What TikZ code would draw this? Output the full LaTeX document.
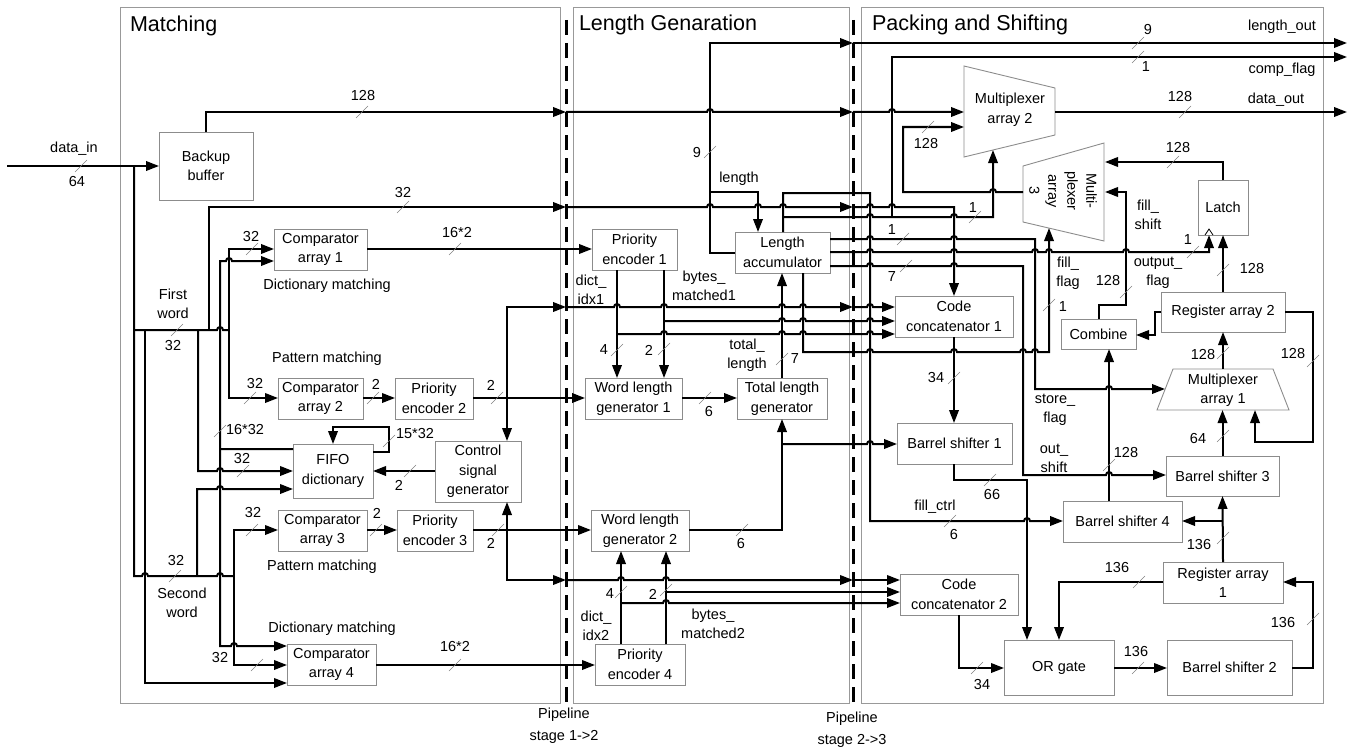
\documentclass[tikz,border=0pt]{standalone}
\usepackage{fontspec}
\setmainfont{Liberation Sans}
\usetikzlibrary{arrows.meta}
\tikzset{
  bx/.style={draw=black!45, line width=0.9pt, inner sep=1pt, outer sep=0pt, align=center, font=\fontsize{14.5}{19.5}\selectfont},
  panel/.style={draw=black!40, line width=0.9pt},
  ar/.style={-{Triangle[length=13pt,width=9.5pt]}},
  hp/.style={insert path={arc[start angle=180,end angle=0,radius=3pt]}},
  hpl/.style={insert path={arc[start angle=0,end angle=180,radius=3pt]}},
  tickst/.style={draw=black!50, line width=0.6pt},
  lb/.style={font=\fontsize{14.5}{19}\selectfont, inner sep=0pt, align=center},
  ttl/.style={font=\fontsize{21.5}{26}\selectfont, anchor=base west, inner sep=0pt},
  pipe/.style={line width=3pt, dash pattern=on 15pt off 8pt},
  trap/.style={draw=black!45, line width=0.9pt},
}
\newcommand\tk[2]{\draw[tickst] ({#1-6},{#2+6}) -- ({#1+6},{#2-6});}
\newcommand\mkbox[6]{%
  \pgfmathsetmacro\bxw{#4-#2}\pgfmathsetmacro\bxh{#5-#3}%
  \pgfmathsetmacro\bxx{(#2+#4)/2}\pgfmathsetmacro\bxy{(#3+#5)/2}%
  \node[bx,minimum width=\bxw pt,minimum height=\bxh pt] (#1) at (\bxx,\bxy) {#6};}
\newcommand\lab[4]{\node[lb] (#1) at (#2,#3) {#4};}
\begin{document}
\begin{tikzpicture}[x=1pt,y=-1pt,line width=2pt]
\useasboundingbox (0,0) rectangle (1356,749);
% panels
\draw[panel] (120,7) rectangle (560,703);
\draw[panel] (573,7) rectangle (849,703);
\draw[panel] (861,7) rectangle (1323,703);
\node[ttl] (t1) at (129,32) {Matching};
\node[ttl] (t2) at (578,31) {Length Genaration};
\node[ttl] (t3) at (871,31) {Packing and Shifting};
\draw[pipe] (566,20) -- (566,705);
\draw[pipe] (853,20) -- (853,705);
\node[lb,font=\fontsize{14.5}{22}\selectfont] (p1) at (564,726) {Pipeline\\stage 1->2};
\node[lb,font=\fontsize{14.5}{22}\selectfont] (p2) at (852,730) {Pipeline\\stage 2->3};

% boxes
\mkbox{bb}{159}{132}{253}{200}{Backup\\buffer}
\mkbox{c1}{274}{229}{367}{270}{Comparator\\array 1}
\mkbox{c2}{278}{378}{363}{419}{Comparator\\array 2}
\mkbox{pe2}{395}{378}{473}{419}{Priority\\encoder 2}
\mkbox{fifo}{293}{444}{373}{498}{FIFO\\dictionary}
\mkbox{csg}{435}{441}{521}{502}{Control\\signal\\generator}
\mkbox{c3}{278}{510}{367}{551}{Comparator\\array 3}
\mkbox{pe3}{397}{510}{473}{551}{Priority\\encoder 3}
\mkbox{c4}{287}{644}{376}{685}{Comparator\\array 4}
\mkbox{pe1}{592}{229}{677}{270}{Priority\\encoder 1}
\mkbox{acc}{735}{232}{830}{273}{Length\\accumulator}
\mkbox{wl1}{585}{378}{682}{419}{Word length\\generator 1}
\mkbox{tlg}{737}{378}{827}{419}{Total length\\generator}
\mkbox{wl2}{591}{510}{689}{551}{Word length\\generator 2}
\mkbox{pe4}{595}{644}{685}{685}{Priority\\encoder 4}
\mkbox{latch}{1198}{180}{1248}{235}{Latch}
\mkbox{cc1}{895}{296}{1013}{337}{Code\\concatenator 1}
\mkbox{comb}{1061}{319}{1136}{349}{Combine}
\mkbox{ra2}{1161}{292}{1285}{332}{Register array 2}
\mkbox{bs1}{897}{423}{1012}{464}{Barrel shifter 1}
\mkbox{bs3}{1166}{456}{1279}{496}{Barrel shifter 3}
\mkbox{bs4}{1063}{501}{1182}{542}{Barrel shifter 4}
\mkbox{ra1}{1163}{562}{1283}{603}{Register array\\1}
\mkbox{cc2}{900}{574}{1018}{615}{Code\\concatenator 2}
\mkbox{orr}{1004}{640}{1114}{695}{OR gate}
\mkbox{bs2}{1167}{640}{1292}{695}{Barrel shifter 2}
% multiplexers
\draw[trap] (964,66) -- (1055,88) -- (1055,135) -- (964,157) -- cycle;
\node[lb,font=\fontsize{14.5}{19.5}\selectfont] (mux2) at (1010,110) {Multiplexer\\array 2};
\draw[trap] (1023,166) -- (1104,143) -- (1104,241) -- (1023,222) -- cycle;
\node[lb,font=\fontsize{14.5}{19}\selectfont,rotate=-90] (mux3) at (1063,191) {Multi-\\plexer\\array\\3};
\draw[trap] (1173,369) -- (1273,369) -- (1289,410) -- (1157,410) -- cycle;
\node[lb,font=\fontsize{14.5}{19.5}\selectfont] (mux1) at (1223,390) {Multiplexer\\array 1};
\draw[line width=0.8pt] (1205,235) -- (1209,229) -- (1213,235);

% ---------- Matching connectors
\coordinate (din) at (7,166);
\draw[ar] (din) -- (bb.west);
\draw (134,166) -- (134,576) -- (142,576) [hp] -- (217,576) [hp] -- (234,576);
\draw (134,330) -- (217,330) [hp] -- (229,330);
\draw[ar] (229,330) -- (229,249) -- (c1.west |- 0,249);
\draw[ar] (229,330) -- (229,398) -- (c2.west |- 0,398);
\draw[ar] (fifo.west |- 0,449) -- (220,449) -- (220,261) -- (226,261) [hp] -- (c1.west |- 0,261);
\draw[ar] (220,449) -- (220,646) -- (231,646) [hp] -- (c4.west |- 0,646);
\draw[ar] (209,330) -- (209,207) -- (566,207);
\draw[ar] (198,330) -- (198,471) -- (217,471) [hp] -- (fifo.west |- 0,471);
\draw[ar] (145,330) -- (145,683) -- (c4.west |- 0,683);
\draw[ar] (197,576) -- (197,489) -- (217,489) [hp] -- (fifo.west |- 0,489);
\draw[ar] (234,576) -- (234,530) -- (c3.west |- 0,530);
\draw[ar] (234,576) -- (234,665) -- (c4.west |- 0,665);
\draw[ar] (bb.north) -- (bb.north |- 0,112) -- (566,112);
\draw[ar] (c1.east |- 0,249) -- (pe1.west |- 0,249);
\draw[ar] (c2.east |- 0,398) -- (pe2.west |- 0,398);
\draw[ar] (pe2.east |- 0,398) -- (wl1.west |- 0,398);
\draw[ar] (c3.east |- 0,530) -- (pe3.west |- 0,530);
\draw[ar] (pe3.east |- 0,530) -- (wl2.west |- 0,530);
\draw[ar] (c4.east |- 0,665) -- (pe4.west |- 0,665);
\draw[ar] (fifo.east |- 0,452) -- (389,452) -- (389,427) -- (333,427) -- (fifo.north);
\draw[ar] (csg.west |- 0,471) -- (fifo.east |- 0,471);
\draw[ar] (507,398) -- (507,307) -- (566,307);
\draw[ar] (507,398) -- (csg.north -| 507,0);
\draw[ar] (507,530) -- (507,580) -- (566,580);
\draw[ar] (507,530) -- (csg.south -| 507,0);

% ---------- Length generation connectors
\draw[ar] (566,112) -- (707,112) [hp] -- (853,112);
\draw[ar] (566,207) -- (707,207) [hp] -- (755,207) [hp] -- (780,207) [hp] -- (853,207);
\draw[ar] (566,307) -- (614,307) [hp] -- (661,307) [hp] -- (779,307) [hp] -- (800,307) [hp] -- (853,307);
\draw[ar] (566,580) -- (618,580) [hp] -- (663,580) [hp] -- (853,580);
\draw[ar] (acc.west) -- (acc.west -| 710,0) -- (710,43) -- (853,43);
\draw[ar] (710,192) -- (758,192) -- (acc.north -| 758,0);
\draw[ar] (pe1.south -| 617,0) -- (wl1.north -| 617,0);
\draw[ar] (pe1.south -| 664,0) -- (wl1.north -| 664,0);
\draw[ar] (617,334) -- (661,334) [hp] -- (779,334) [hp] -- (800,334) [hp] -- (867,334) [hp] -- (cc1.west |- 0,334);
\draw[ar] (664,321) -- (779,321) [hp] -- (800,321) [hp] -- (867,321) [hp] -- (cc1.west |- 0,321);
\draw[ar] (853,307) -- (867,307) [hp] -- (cc1.west |- 0,307);
\draw[ar] (tlg.north -| 782,0) -- (acc.south -| 782,0);
\draw[ar] (wl1.east |- 0,398) -- (tlg.west |- 0,398);
\draw[ar] (wl2.east |- 0,530) -- (782,530) -- (tlg.south -| 782,0);
\draw[ar] (782,444) -- (867,444) [hp] -- (bs1.west |- 0,444);
\draw[ar] (pe4.north -| 621,0) -- (wl2.south -| 621,0);
\draw[ar] (pe4.north -| 666,0) -- (wl2.south -| 666,0);
\draw[ar] (621,603) -- (663,603) [hp] -- (cc2.west |- 0,603);
\draw[ar] (666,592) -- (cc2.west |- 0,592);
\draw[ar] (853,580) -- (cc2.west |- 0,580);

% ---------- accumulator outputs
\draw[ar] (acc.north -| 783,0) -- (783,193) -- (870,193) -- (870,521) -- (1024,521) [hp] -- (bs4.west |- 0,521);
\draw[ar] (783,217) -- (867,217) [hp] -- (951,217) [hp] -- (993,217) -- (993,150);
\draw[ar] (892,217) -- (892,57) -- (1347,57);
\draw[ar] (acc.east |- 0,239) -- (867,239) [hp] -- (951,239) [hp] -- (1035,239) -- (1035,389) -- (1106,389) [hp] -- (1165,389);
\draw[ar] (acc.east |- 0,252) -- (867,252) [hp] -- (951,252) [hp] -- (1032,252) [hp] -- (1046,252) [hp] -- (1123,252) [hp] -- (1209,252) -- (1209,235);
\draw[ar] (acc.east |- 0,266) -- (867,266) [hp] -- (951,266) [hp] -- (1023,266) -- (1023,475) -- (1106,475) [hp] -- (bs3.west |- 0,475);
\draw[ar] (acc.south -| 803,0) -- (803,352) -- (867,352) [hp] -- (951,352) [hp] -- (1020,352) [hp] -- (1032,352) [hp] -- (1049,352) -- (1049,228);

% ---------- Packing connectors
\draw[ar] (853,43) -- (1347,43);
\draw[ar] (853,112) -- (889,112) [hp] -- (964,112);
\draw[ar] (853,207) -- (867,207) [hp] -- (889,207) [hp] -- (954,207) -- (cc1.north -| 954,0);
\draw[ar] (1055,112) -- (1347,112);
\draw[ar] (1023,192) -- (996,192) [hpl] -- (903,192) -- (903,127) -- (964,127);
\draw[ar] (latch.north) -- (latch.north |- 0,162) -- (1105,162);
\draw[ar] (comb.north) -- (comb.north |- 0,305) -- (1126,305) -- (1126,192) -- (1105,192);
\draw[ar] (ra2.north) -- (latch.south);
\draw[ar] (ra2.west |- 0,312) -- (1155,312) -- (1155,335) -- (comb.east |- 0,335);
\draw[ar] (ra2.east |- 0,312) -- (1313,312) -- (1313,442) -- (1255,442) -- (1255,410);
\draw[ar] (1223,369) -- (ra2.south);
\draw[ar] (bs3.north) -- (1222.5,410);
\draw[ar] (bs4.north -| 1109,0) -- (comb.south -| 1109,0);
\draw[ar] (ra1.north) -- (bs3.south);
\draw[ar] (1223,521) -- (bs4.east |- 0,521);
\draw[ar] (ra1.west |- 0,582) -- (1059,582) -- (orr.north -| 1059,0);
\draw[ar] (bs1.south -| 954,0) -- (954,480) -- (1027,480) -- (orr.north -| 1027,0);
\draw[ar] (cc1.south -| 954,0) -- (bs1.north -| 954,0);
\draw[ar] (cc2.south -| 959,0) -- (959,668) -- (orr.west |- 0,668);
\draw[ar] (orr.east |- 0,668) -- (bs2.west |- 0,668);
\draw[ar] (bs2.east |- 0,668) -- (1313,668) -- (1313,582) -- (ra1.east |- 0,582);

% ---------- ticks
\tk{81}{166}\tk{362}{112}\tk{403}{207}\tk{252}{249}\tk{455}{249}\tk{177}{330}
\tk{250}{398}\tk{373}{398}\tk{497}{398}\tk{220}{431}\tk{389}{441}\tk{243}{471}
\tk{410}{471}\tk{252}{530}\tk{376}{530}\tk{498}{530}\tk{175}{576}\tk{257}{665}\tk{455}{665}
\tk{710}{152}\tk{617}{350}\tk{664}{349}\tk{782}{359}\tk{705}{398}\tk{742}{530}
\tk{621}{592}\tk{666}{590}
\tk{1138}{43}\tk{1138}{57}\tk{1185}{112}\tk{928}{127}\tk{1173}{162}\tk{975}{217}
\tk{903}{239}\tk{906}{266}\tk{1193}{252}\tk{1126}{292}\tk{1223}{270}\tk{1049}{305}
\tk{1223}{353}\tk{1313}{361}\tk{1223}{436}\tk{954}{378}\tk{1109}{465}\tk{990}{480}
\tk{950}{521}\tk{1223}{538}\tk{1139}{582}\tk{1313}{619}\tk{1138}{668}\tk{977}{668}

% ---------- labels
\lab{a1}{74}{149}{data\_in}
\lab{a2}{77}{182}{64}
\lab{a3}{363}{96}{128}
\lab{a4}{403}{193}{32}
\lab{a5}{251}{237}{32}
\lab{a6}{457}{233}{16*2}
\lab{a7}{327}{286}{Dictionary matching}
\lab{a8}{173}{304}{First\\word}
\lab{a9}{173}{346}{32}
\lab{a10}{327}{359}{Pattern matching}
\lab{a11}{255}{384}{32}
\lab{a12}{376}{384}{2}
\lab{a13}{491}{385}{2}
\lab{a14}{245}{430}{16*32}
\lab{a15}{415}{434}{15*32}
\lab{a16}{242}{459}{32}
\lab{a17}{399}{485}{2}
\lab{a18}{253}{513}{32}
\lab{a19}{377}{513}{2}
\lab{a20}{491}{543}{2}
\lab{a21}{322}{567}{Pattern matching}
\lab{a22}{176}{561}{32}
\lab{a23}{182}{603}{Second\\word}
\lab{a24}{332}{629}{Dictionary matching}
\lab{a25}{220}{658}{32}
\lab{a26}{455}{646}{16*2}
\lab{b1}{697}{153}{9}
\lab{b2}{739}{179}{length}
\lab{b3}{591}{290}{dict\_\\idx1}
\lab{b4}{704}{286}{bytes\_\\matched1}
\lab{b5}{604}{350}{4}
\lab{b6}{649}{350}{2}
\lab{b7}{747}{355}{total\_\\length}
\lab{b8}{795}{359}{7}
\lab{b9}{709}{412}{6}
\lab{b10}{741}{544}{6}
\lab{b11}{610}{594}{4}
\lab{b12}{653}{594}{2}
\lab{b13}{596}{626}{dict\_\\idx2}
\lab{b14}{713}{624}{bytes\_\\matched2}
\lab{d1}{1282}{27}{length\_out}
\lab{d2}{1282}{70}{comp\_flag}
\lab{d3}{1276}{100}{data\_out}
\lab{d4}{1148}{30}{9}
\lab{d5}{1146}{67}{1}
\lab{d6}{1180}{97}{128}
\lab{d7}{926}{144}{128}
\lab{d8}{1178}{148}{128}
\lab{d9}{973}{208}{1}
\lab{d10}{892}{230}{1}
\lab{d11}{892}{277}{7}
\lab{d12}{1148}{215}{fill\_\\shift}
\lab{d13}{1188}{240}{1}
\lab{d14}{1158}{273}{output\_\\flag}
\lab{d15}{1068}{273}{fill\_\\flag}
\lab{d16}{1108}{281}{128}
\lab{d17}{1252}{269}{128}
\lab{d18}{1063}{307}{1}
\lab{d19}{936}{378}{34}
\lab{d20}{1203}{355}{128}
\lab{d21}{1293}{354}{128}
\lab{d22}{1055}{410}{store\_\\flag}
\lab{d23}{1198}{439}{64}
\lab{d24}{1054}{458}{out\_\\shift}
\lab{d25}{1126}{453}{128}
\lab{d26}{992}{495}{66}
\lab{d27}{935}{507}{fill\_ctrl}
\lab{d28}{954}{535}{6}
\lab{d29}{1199}{545}{136}
\lab{d30}{1117}{568}{136}
\lab{d31}{1283}{623}{136}
\lab{d32}{1136}{652}{136}
\lab{d33}{982}{684}{34}
\end{tikzpicture}
\end{document}
